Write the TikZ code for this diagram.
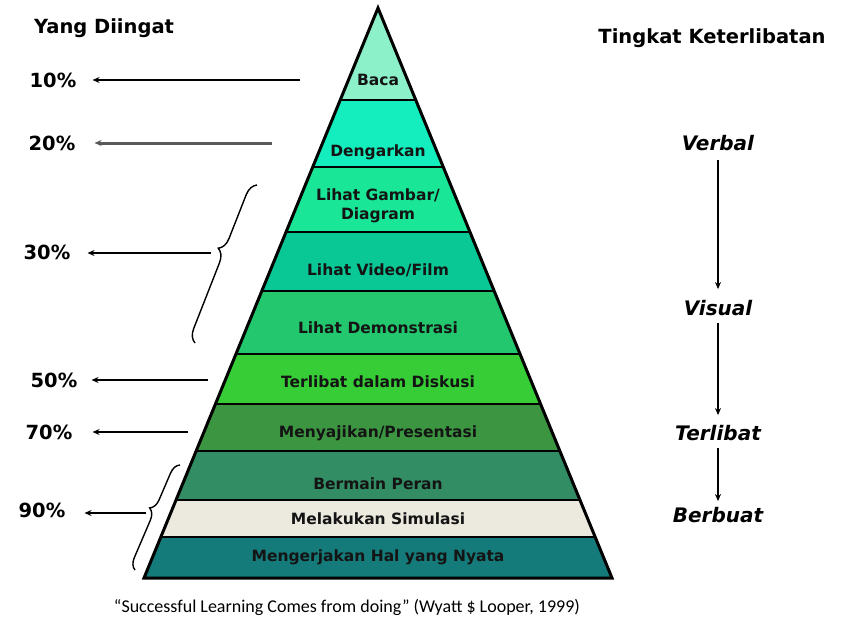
\documentclass[tikz,border=0pt]{standalone}
\usepackage{fontspec}
\setmainfont{DejaVu Sans}
\newfontfamily\capfont{Carlito}
\usetikzlibrary{arrows.meta,decorations.pathreplacing,calc}
\definecolor{cA}{RGB}{140,240,200}
\definecolor{cB}{RGB}{20,238,190}
\definecolor{cC}{RGB}{25,230,150}
\definecolor{cD}{RGB}{10,200,150}
\definecolor{cE}{RGB}{35,200,110}
\definecolor{cF}{RGB}{55,205,55}
\definecolor{cG}{RGB}{60,150,65}
\definecolor{cH}{RGB}{50,140,100}
\definecolor{cI}{RGB}{236,233,222}
\definecolor{cJ}{RGB}{20,122,122}
\newcommand\lyr[3]{%
  \pgfmathsetmacro\ha{(#1-8)/570*235}%
  \pgfmathsetmacro\hb{(#2-8)/570*235}%
  \fill[#3] (378-\ha,#1) -- (378+\ha,#1) -- (378+\hb,#2) -- (378-\hb,#2) -- cycle;
  \draw[sepline] (378-\ha,#1) -- (378+\ha,#1);
}
\begin{document}
\begin{tikzpicture}[x=1pt,y=-1pt,
  sepline/.style={line width=2.6pt},
  lbl/.style={font=\fontsize{15.5}{19}\selectfont\bfseries, text=black!92, align=center, inner sep=0pt},
  head/.style={font=\fontsize{19.5}{23}\selectfont\bfseries, inner sep=0pt},
  pct/.style={font=\fontsize{19.5}{23}\selectfont\bfseries, inner sep=0pt},
  lvl/.style={font=\fontsize{20}{23}\selectfont\bfseries\itshape, inner sep=1pt},
  arr/.style={line width=1.6pt, -{Stealth[length=7pt,width=6pt]}},
  bracestyle/.style={line width=1.4pt, decorate, decoration={brace, amplitude=13pt}}
]
\path[use as bounding box, fill=white] (0,0) rectangle (842,621);

% pyramid layers
\lyr{8}{100}{cA}
\lyr{100}{167}{cB}
\lyr{167}{232}{cC}
\lyr{232}{291}{cD}
\lyr{291}{354}{cE}
\lyr{354}{404}{cF}
\lyr{404}{451}{cG}
\lyr{451}{500}{cH}
\lyr{500}{537}{cI}
\lyr{537}{578}{cJ}
\draw[line width=3pt, line join=miter] (378,8) -- (612,578) -- (144,578) -- cycle;

% layer labels
\node[lbl] (t1) at (378,80) {Baca};
\node[lbl] (t2) at (378,152) {Dengarkan};
\node[lbl] (t3) at (378,206) {Lihat Gambar/\\Diagram};
\node[lbl] (t4) at (378,270) {Lihat Video/Film};
\node[lbl] (t5) at (378,328) {Lihat Demonstrasi};
\node[lbl] (t6) at (378,382) {Terlibat dalam Diskusi};
\node[lbl] (t7) at (378,433) {Menyajikan/Presentasi};
\node[lbl] (t8) at (378,484) {Bermain Peran};
\node[lbl] (t9) at (378,519) {Melakukan Simulasi};
\node[lbl] (t10) at (378,557) {Mengerjakan Hal yang Nyata};

% headers
\node[head] (h1) at (104,28) {Yang Diingat};
\node[head] (h2) at (712,38) {Tingkat Keterlibatan};

% percentages
\node[pct] (p10) at (53,80) {10\%};
\node[pct] (p20) at (52,143) {20\%};
\node[pct] (p30) at (47,252) {30\%};
\node[pct] (p50) at (54,380) {50\%};
\node[pct] (p70) at (49,432) {70\%};
\node[pct] (p90) at (42,510) {90\%};

\coordinate (s10) at (300,80);
\coordinate (s20) at (272,143);
\coordinate (s30) at (211,253);
\coordinate (s50) at (208,380);
\coordinate (s70) at (188,432);
\coordinate (s90) at (146,513);

\draw[arr, shorten >=16pt] (s10) -- (p10.east |- s10);
\draw[arr, line width=3pt, draw=black!65, shorten >=19pt] (s20) -- (p20.east |- s20);
\draw[arr, shorten >=17pt] (s30) -- (p30.east |- s30);
\draw[arr, shorten >=14pt] (s50) -- (p50.east |- s50);
\draw[arr, shorten >=20pt] (s70) -- (p70.east |- s70);
\draw[arr, shorten >=19pt] (s90) -- (p90.east |- s90);

% braces
\draw[bracestyle, decoration={aspect=0.57}] (195,343) -- (257,185);
\draw[bracestyle, decoration={aspect=0.55, amplitude=11pt}] (135,570) -- (180,465);

% involvement levels
\node[lvl] (v1) at (718,143) {Verbal};
\node[lvl] (v2) at (718,308) {Visual};
\node[lvl] (v3) at (718,433) {Terlibat};
\node[lvl] (v4) at (718,515) {Berbuat};
\draw[arr, shorten <=8pt, shorten >=10pt] (v1) -- (v2);
\draw[arr, shorten <=6pt, shorten >=9pt] (v2) -- (v3);
\draw[arr, shorten <=6pt, shorten >=5pt] (v3) -- (v4);

% caption
\node[font=\capfont\fontsize{18}{20}\selectfont, inner sep=0pt] (cap) at (347,607)
  {“Successful Learning Comes from doing” (Wyatt \$ Looper, 1999)};
\end{tikzpicture}
\end{document}
